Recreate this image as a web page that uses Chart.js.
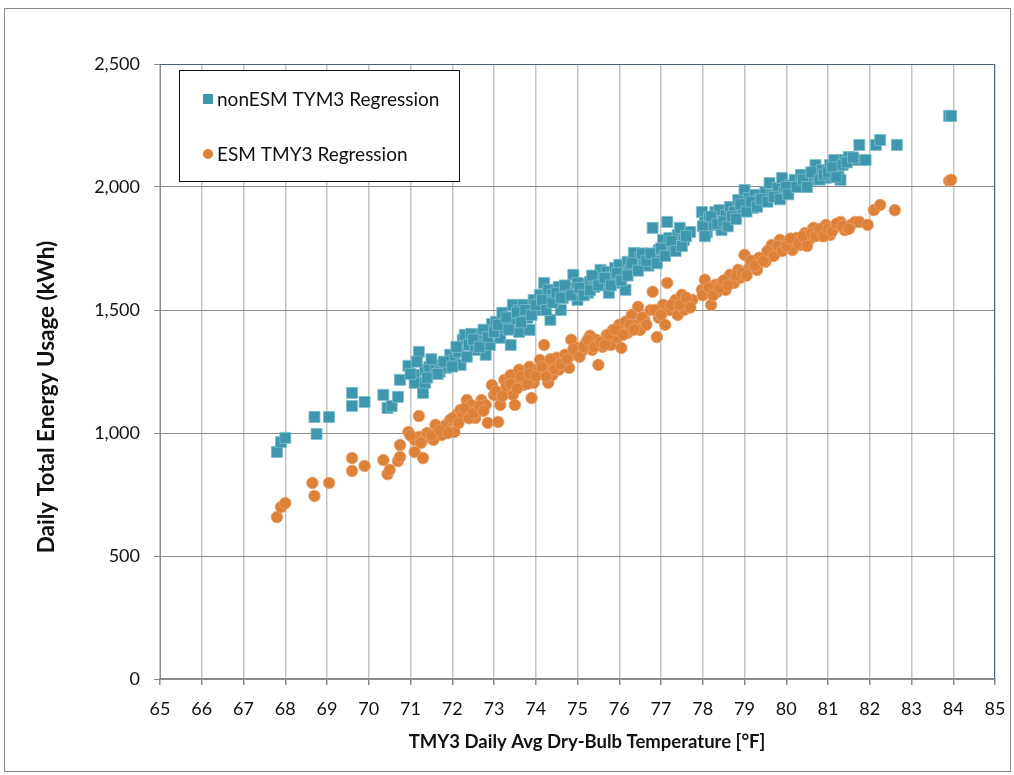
<!DOCTYPE html>
<html>
<head>
<meta charset="utf-8">
<script src="https://cdn.jsdelivr.net/npm/chart.js@4.4.1/dist/chart.umd.min.js"></script>
<style>
  html, body { margin: 0; padding: 0; background: #fff; }
  #frame { position: absolute; left: 4px; top: 8px; width: 1005px; height: 762px; border: 1px solid #8a8a8a; }
  #wrap { position: absolute; left: 0; top: 0; width: 1014px; height: 775px; }
</style>
</head>
<body>
<div id="frame"></div>
<div id="wrap"><canvas id="myChart" width="1014" height="775"></canvas></div>
<script>
// nonESM TYM3 Regression: temperature [F] and daily kWh
const nonEsmTemp = [67.8, 67.9, 68.0, 68.7, 68.75, 69.05, 69.6, 69.6, 69.9, 70.35, 70.45, 70.55, 70.7, 70.75,
  70.95, 71.1, 71.1, 71.2, 71.3, 71.35, 71.35, 71.45, 71.6, 71.7, 71.85, 71.95, 72.05, 72.15, 72.2, 72.25,
  72.3, 72.4, 72.45, 72.55, 72.6, 72.7, 72.8, 72.9, 72.95, 73.05, 73.15, 73.2, 73.25, 73.4, 73.45, 73.5,
  73.6, 73.6, 73.7, 73.8, 73.85, 73.95, 74.05, 74.1, 74.2, 74.2, 74.3, 74.35, 74.4, 74.45, 74.55, 74.6,
  74.65, 74.75, 74.8, 74.9, 74.95, 75.0, 75.1, 75.2, 75.25, 75.3, 75.4, 75.45, 75.55, 75.6, 75.7, 75.75,
  75.8, 75.9, 76.0, 76.0, 76.1, 76.15, 76.2, 76.25, 76.35, 76.4, 76.5, 76.6, 76.7, 76.8, 76.85, 76.95,
  77.05, 77.1, 77.15, 77.2, 77.3, 77.4, 77.45, 77.55, 77.7, 77.98, 78.05, 78.1, 78.15, 78.25, 78.3, 78.4,
  78.45, 78.55, 78.65, 78.75, 78.85, 78.95, 79.0, 79.1, 79.2, 79.25, 79.35, 79.5, 79.6, 79.65, 79.8, 79.9,
  79.95, 80.1, 80.2, 80.35, 80.45, 80.55, 80.7, 80.75, 80.85, 80.95, 81.05, 81.15, 81.25, 81.3, 81.4, 81.5,
  81.65, 81.75, 81.9, 82.15, 82.25, 82.65, 83.9, 83.95];
const nonEsmKwh = [923, 963, 980, 1065, 996, 1065, 1163, 1110, 1126, 1155, 1102, 1110, 1147, 1216,
  1273, 1236, 1204, 1330, 1163, 1204, 1257, 1269, 1277, 1249, 1265, 1318, 1297, 1330, 1277, 1379,
  1399, 1358, 1403, 1338, 1379, 1403, 1318, 1358, 1443, 1452, 1387, 1489, 1428, 1358, 1521, 1460,
  1411, 1500, 1521, 1468, 1419, 1541, 1500, 1562, 1610, 1521, 1582, 1460, 1562, 1541, 1594, 1500,
  1549, 1582, 1590, 1643, 1570, 1541, 1582, 1606, 1570, 1614, 1594, 1631, 1663, 1602, 1655, 1570,
  1635, 1671, 1610, 1684, 1643, 1582, 1696, 1663, 1732, 1684, 1712, 1696, 1680, 1834, 1712, 1744,
  1785, 1744, 1858, 1793, 1764, 1805, 1834, 1785, 1817, 1898, 1858, 1817, 1874, 1846, 1898, 1906,
  1825, 1886, 1919, 1898, 1947, 1906, 1988, 1955, 1915, 1968, 1947, 1980, 2016, 1968, 1996, 2037,
  1980, 2008, 2029, 2049, 2016, 2029, 2089, 2049, 2069, 2037, 2089, 2110, 2069, 2029, 2110, 2122,
  2110, 2171, 2110, 2171, 2191, 2171, 2289, 2289];
// more nonESM days inside the dense band
const nonEsmTempB = [71.0, 71.15, 71.4, 71.5, 71.65, 71.8, 72.0, 72.1, 72.35, 72.5, 72.65, 72.75, 72.85,
  73.0, 73.1, 73.3, 73.35, 73.55, 73.65, 73.75, 73.9, 74.0, 74.15, 74.25, 74.4, 74.5, 74.6, 74.7, 74.85,
  75.0, 75.05, 75.15, 75.3, 75.35, 75.5, 75.65, 75.8, 75.95, 76.05, 76.2, 76.3, 76.45, 76.55, 76.65,
  76.75, 76.9, 77.0, 77.1, 77.25, 77.35, 77.5, 77.6, 78.0, 78.05, 78.2, 78.35, 78.5, 78.6, 78.7, 78.8,
  78.9, 79.05, 79.15, 79.3, 79.4, 79.55, 79.7, 79.85, 80.0, 80.05, 80.25, 80.4, 80.5, 80.6, 80.8, 80.9,
  81.0, 81.1, 81.2, 81.35, 81.45, 81.6];
const nonEsmKwhB = [1240, 1290, 1225, 1300, 1240, 1290, 1270, 1350, 1310, 1380, 1350, 1420, 1390,
  1410, 1440, 1470, 1420, 1490, 1450, 1500, 1480, 1520, 1540, 1500, 1530, 1570, 1550, 1600, 1560,
  1610, 1590, 1560, 1580, 1640, 1600, 1630, 1600, 1650, 1620, 1640, 1690, 1660, 1730, 1700,
  1730, 1690, 1750, 1720, 1780, 1740, 1760, 1800, 1840, 1800, 1880, 1850, 1860, 1840, 1880, 1870,
  1930, 1900, 1940, 1920, 1950, 1940, 1960, 1950, 2000, 1970, 2000, 2030, 2000, 2060, 2030, 2050,
  2060, 2080, 2040, 2090, 2100, 2120];

// ESM TMY3 Regression
const esmTemp = [67.8, 67.9, 68.0, 68.65, 68.7, 69.05, 69.6, 69.6, 69.9, 70.35, 70.45, 70.5, 70.7, 70.75, 70.75,
  70.95, 71.1, 71.1, 71.2, 71.2, 71.3, 71.35, 71.45, 71.55, 71.6, 71.75, 71.85, 71.95, 72.05, 72.1, 72.2,
  72.25, 72.35, 72.45, 72.55, 72.6, 72.7, 72.8, 72.85, 72.95, 73.0, 73.1, 73.15, 73.25, 73.35, 73.4, 73.45,
  73.5, 73.6, 73.6, 73.7, 73.75, 73.85, 73.9, 73.95, 74.05, 74.1, 74.2, 74.2, 74.3, 74.35, 74.4, 74.5,
  74.55, 74.65, 74.7, 74.8, 74.85, 74.95, 75.0, 75.1, 75.2, 75.3, 75.35, 75.45, 75.5, 75.6, 75.7, 75.8,
  75.85, 75.95, 76.0, 76.05, 76.15, 76.2, 76.3, 76.4, 76.45, 76.5, 76.6, 76.75, 76.8, 76.9, 76.95, 77.05,
  77.1, 77.15, 77.2, 77.35, 77.4, 77.5, 77.55, 77.65, 77.75, 77.98, 78.05, 78.1, 78.2, 78.3, 78.35, 78.45,
  78.55, 78.65, 78.75, 78.85, 78.9, 79.0, 79.1, 79.2, 79.3, 79.35, 79.5, 79.6, 79.65, 79.75, 79.85, 79.95,
  80.05, 80.15, 80.25, 80.35, 80.45, 80.55, 80.65, 80.75, 80.85, 80.95, 81.05, 81.15, 81.3, 81.4, 81.55,
  81.65, 81.75, 81.95, 82.1, 82.25, 82.6, 83.9, 83.95];
const esmKwh = [658, 699, 715, 797, 744, 797, 898, 846, 866, 890, 833, 850, 886, 951, 903,
  1004, 972, 923, 1069, 984, 898, 980, 984, 972, 1033, 992, 1033, 1053, 1004, 1073, 1094,
  1073, 1134, 1114, 1061, 1085, 1134, 1114, 1041, 1195, 1155, 1045, 1114, 1216, 1175, 1236, 1155,
  1114, 1208, 1257, 1195, 1224, 1269, 1142, 1204, 1257, 1297, 1244, 1358, 1204, 1273, 1236, 1306,
  1257, 1289, 1318, 1265, 1379, 1318, 1346, 1330, 1366, 1395, 1338, 1379, 1277, 1350, 1399, 1358,
  1419, 1387, 1440, 1346, 1452, 1407, 1480, 1440, 1513, 1419, 1460, 1500, 1574, 1390, 1468, 1521,
  1440, 1610, 1500, 1541, 1480, 1562, 1500, 1521, 1541, 1582, 1623, 1570, 1521, 1602, 1574, 1610,
  1582, 1643, 1610, 1663, 1631, 1724, 1667, 1688, 1663, 1712, 1696, 1724, 1764, 1736, 1785, 1752,
  1777, 1744, 1793, 1764, 1813, 1785, 1834, 1817, 1801, 1846, 1805, 1834, 1858, 1825, 1846,
  1858, 1858, 1846, 1906, 1927, 1906, 2025, 2029];
// more ESM days inside the dense band
const esmTempB = [71.0, 71.25, 71.4, 71.5, 71.7, 71.9, 72.0, 72.15, 72.3, 72.4, 72.5, 72.65, 72.75,
  73.05, 73.2, 73.3, 73.4, 73.55, 73.65, 73.8, 73.85, 74.0, 74.15, 74.25, 74.35, 74.45, 74.6, 74.75,
  74.9, 75.05, 75.15, 75.25, 75.4, 75.55, 75.65, 75.75, 75.9, 76.1, 76.25, 76.35, 76.55, 76.65, 76.85,
  77.0, 77.25, 77.45, 77.6, 77.7, 78.0, 78.15, 78.25, 78.4, 78.5, 78.6, 78.8, 78.95, 79.05, 79.15,
  79.25, 79.45, 79.55, 79.7, 79.8, 79.9, 80.0, 80.1, 80.3, 80.4, 80.5, 80.6, 80.7, 80.8, 80.9, 81.0,
  81.1, 81.2, 81.35, 81.5];
const esmKwhB = [990, 960, 1000, 990, 1010, 1000, 1060, 1040, 1100, 1060, 1080, 1110, 1090,
  1170, 1150, 1190, 1200, 1180, 1230, 1200, 1240, 1230, 1270, 1230, 1300, 1260, 1280, 1300,
  1340, 1310, 1350, 1380, 1350, 1370, 1360, 1400, 1420, 1400, 1440, 1420, 1470, 1440, 1500,
  1480, 1520, 1520, 1550, 1510, 1560, 1590, 1560, 1590, 1620, 1600, 1640, 1650, 1640, 1700,
  1680, 1700, 1740, 1720, 1760, 1740, 1760, 1790, 1770, 1800, 1760, 1810, 1800, 1830, 1800, 1830,
  1820, 1850, 1840, 1830];

const xTicks = [65, 66, 67, 68, 69, 70, 71, 72, 73, 74, 75, 76, 77, 78, 79, 80, 81, 82, 83, 84, 85];
const yTicks = [0, 500, 1000, 1500, 2000, 2500];
const xTitle = 'TMY3 Daily Avg Dry-Bulb Temperature [°F]';
const yTitle = 'Daily Total Energy Usage (kWh)';

const labelFont = "Lato, 'Open Sans', sans-serif";

const toPoints = (xs, ys) => xs.map((x, i) => ({ x: x, y: ys[i] }));

const boxLegend = {
  id: 'boxLegend',
  afterDraw(chart) {
    const { ctx, chartArea } = chart;
    ctx.save();
    // plot frame top and right
    ctx.strokeStyle = '#4e5f7e';
    ctx.lineWidth = 1;
    ctx.beginPath();
    ctx.moveTo(chartArea.left, chartArea.top + 0.5);
    ctx.lineTo(chartArea.right - 0.5, chartArea.top + 0.5);
    ctx.lineTo(chartArea.right - 0.5, chartArea.bottom);
    ctx.stroke();

    // axis titles
    ctx.fillStyle = '#111';
    ctx.textAlign = 'center';
    ctx.textBaseline = 'middle';
    ctx.font = 'bold 18.5px ' + labelFont;
    ctx.fillText(xTitle, 587, 742);
    ctx.save();
    ctx.translate(47, 397);
    ctx.rotate(-Math.PI / 2);
    ctx.font = 'bold 22.5px ' + labelFont;
    ctx.fillText(yTitle, 0, 0);
    ctx.restore();

    // legend box
    const bx = 179.5, by = 70.5, bw = 280, bh = 111;
    ctx.fillStyle = '#fff';
    ctx.fillRect(bx, by, bw, bh);
    ctx.strokeStyle = '#111';
    ctx.strokeRect(bx, by, bw, bh);

    ctx.font = '19px ' + labelFont;
    ctx.textAlign = 'left';
    chart.data.datasets.forEach((ds, i) => {
      const cy = 99 + i * 55;
      ctx.fillStyle = ds.backgroundColor;
      if (ds.pointStyle === 'rect') {
        ctx.fillRect(203, cy - 5, 10, 10);
      } else {
        ctx.beginPath();
        ctx.arc(208, cy, 5, 0, Math.PI * 2);
        ctx.fill();
      }
      ctx.fillStyle = '#111';
      ctx.fillText(ds.label, 217, cy + 1);
    });
    ctx.restore();
  }
};

const ctx = document.getElementById('myChart');
new Chart(ctx, {
  type: 'scatter',
  data: {
    datasets: [{
      label: 'nonESM TYM3 Regression',
      data: toPoints(nonEsmTemp, nonEsmKwh).concat(toPoints(nonEsmTempB, nonEsmKwhB)),
      pointStyle: 'rect',
      pointRadius: 7.8,
      backgroundColor: '#3f97ad',
      borderColor: '#7cbccc',
      borderWidth: 0.8
    }, {
      label: 'ESM TMY3 Regression',
      data: toPoints(esmTemp, esmKwh).concat(toPoints(esmTempB, esmKwhB)),
      pointStyle: 'circle',
      pointRadius: 5.8,
      backgroundColor: '#dd8139',
      borderColor: '#e9a06a',
      borderWidth: 0.8
    }]
  },
  options: {
    responsive: false,
    animation: false,
    layout: { padding: { top: 64, right: 19, bottom: 0, left: 0 } },
    plugins: {
      legend: { display: false },
      tooltip: { enabled: false }
    },
    scales: {
      x: {
        type: 'linear',
        min: 65,
        max: 85,
        afterFit: (scale) => {
          scale.height = 96;
          scale.paddingLeft = 0;
          scale.paddingRight = 0;
        },
        afterBuildTicks: (scale) => { scale.ticks = xTicks.map(v => ({ value: v })); },
        ticks: {
          color: '#111',
          font: { family: labelFont, size: 18 },
          padding: 13,
          maxRotation: 0
        },
        grid: { color: '#c4c4c4', lineWidth: 1.5, tickLength: 6, tickColor: '#8a8a8a' },
        border: { color: '#8a8a8a', width: 1.5 }
      },
      y: {
        min: 0,
        max: 2500,
        afterFit: (scale) => {
          scale.width = 160;
          scale.paddingTop = 0;
          scale.paddingBottom = 0;
        },
        afterBuildTicks: (scale) => { scale.ticks = yTicks.map(v => ({ value: v })); },
        ticks: {
          color: '#111',
          font: { family: labelFont, size: 18 },
          padding: 14,
          callback: (v) => v.toLocaleString('en-US')
        },
        grid: { color: '#8c8c8c', lineWidth: 1, tickLength: 6, tickColor: '#8a8a8a' },
        border: { color: '#8a8a8a', width: 1 }
      }
    }
  },
  plugins: [boxLegend]
});
</script>
</body>
</html>
